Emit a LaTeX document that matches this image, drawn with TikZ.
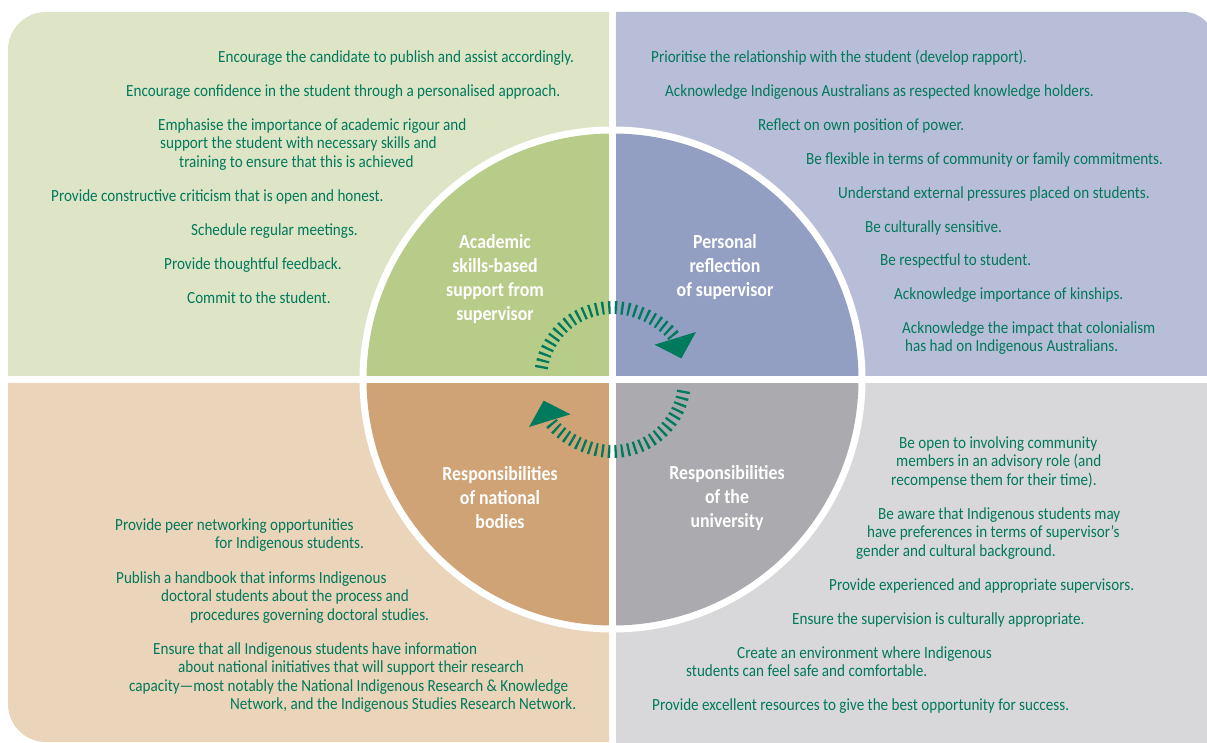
\documentclass[tikz,border=0pt]{standalone}
\usepackage{fontspec}
\setmainfont{Carlito}[FakeStretch=0.89]
\usetikzlibrary{arrows.meta}

\definecolor{textgreen}{RGB}{0,120,90}
\definecolor{arrowgreen}{RGB}{0,122,92}
\definecolor{acadlight}{RGB}{222,229,199}
\definecolor{acaddark}{RGB}{184,204,137}
\definecolor{perslight}{RGB}{185,190,216}
\definecolor{persdark}{RGB}{146,159,194}
\definecolor{natlight}{RGB}{234,212,186}
\definecolor{natdark}{RGB}{207,163,117}
\definecolor{unilight}{RGB}{216,216,218}
\definecolor{unidark}{RGB}{171,171,175}

\begin{document}
\begin{tikzpicture}[x=1pt, y=1pt,
    point/.style={text=textgreen, font=\fontsize{17}{18.5}\selectfont, align=left, inner sep=0pt, anchor=base west},
    ringlabel/.style={text=white, font=\fontsize{20}{24}\selectfont\bfseries, align=center, inner sep=0pt},
    gap/.style={white, line width=7pt},
    cyclearrow/.style={arrowgreen, line width=13pt, dash pattern=on 2.3pt off 4.2pt, -{Triangle[width=42pt,length=21pt]}}]
        \useasboundingbox (0,0) rectangle (1207,743);
        % four panels
        \fill[acadlight] (609,367) -- (8,367) -- (8,693) arc[start angle=180, end angle=90, radius=38] -- (609,731) -- cycle;
        \fill[perslight] (616,367) -- (616,731) -- (1184,731) arc[start angle=90, end angle=0, radius=30] -- (1214,367) -- cycle;
        \fill[natlight] (609,360) -- (609,1) -- (46,1) arc[start angle=270, end angle=180, radius=38] -- (8,360) -- cycle;
        \fill[unilight] (616,360) -- (616,-5) -- (1214,-5) -- (1214,360) -- cycle;
        % the circle
        \coordinate (c) at (612.5,363.5);
        \fill[white] (c) circle[radius=253];
        \fill[acaddark] (c) -- ++(180:246) arc[start angle=180, end angle=90, radius=246] -- cycle;
        \fill[persdark] (c) -- ++(90:246) arc[start angle=90, end angle=0, radius=246] -- cycle;
        \fill[unidark] (c) -- ++(0:246) arc[start angle=0, end angle=-90, radius=246] -- cycle;
        \fill[natdark] (c) -- ++(270:246) arc[start angle=270, end angle=180, radius=246] -- cycle;
        \draw[gap] ([shift={(0,-256)}]c) -- ([shift={(0,256)}]c);
        \draw[gap] ([shift={(-256,0)}]c) -- ([shift={(256,0)}]c);
        % cycle arrows
        \draw[cyclearrow] ([shift={(171:72)}]c) arc[start angle=171, end angle=17, radius=72];
        \draw[cyclearrow] ([shift={(-9:72)}]c) arc[start angle=-9, end angle=-163, radius=72];
        \node[ringlabel] (acad) at (495,464) {Academic\\skills-based\\support from\\supervisor};
        \node[ringlabel] (pers) at (725,476) {Personal\\reflection\\of supervisor};
        \node[ringlabel] (nat) at (500,245) {Responsibilities\\of national\\bodies};
        \node[ringlabel] (uni) at (727,245) {Responsibilities\\of the\\university};
        % academic support
        \node[point] (acad1) at (218,680.5) {Encourage the candidate to publish and assist accordingly.};
        \node[point] (acad2) at (126,646.5) {Encourage confidence in the student through a personalised approach.};
        \node[point] (acad3) at (158,575.5) {Emphasise the importance of academic rigour and\\\hspace*{2pt}support the student with necessary skills and\\\hspace*{21pt}training to ensure that this is achieved};
        \node[point] (acad4) at (51,541.5) {Provide constructive criticism that is open and honest.};
        \node[point] (acad5) at (191,507.5) {Schedule regular meetings.};
        \node[point] (acad6) at (164,473.5) {Provide thoughtful feedback.};
        \node[point] (acad7) at (187,439.5) {Commit to the student.};
        % personal reflection
        \node[point] (pers1) at (651,680.5) {Prioritise the relationship with the student (develop rapport).};
        \node[point] (pers2) at (665,646.5) {Acknowledge Indigenous Australians as respected knowledge holders.};
        \node[point] (pers3) at (758,612.5) {Reflect on own position of power.};
        \node[point] (pers4) at (806,578.5) {Be flexible in terms of community or family commitments.};
        \node[point] (pers5) at (838,544.5) {Understand external pressures placed on students.};
        \node[point] (pers6) at (865,510.5) {Be culturally sensitive.};
        \node[point] (pers7) at (880,477.5) {Be respectful to student.};
        \node[point] (pers8) at (894,443.5) {Acknowledge importance of kinships.};
        \node[point] (pers9) at (902,391) {Acknowledge the impact that colonialism\\\hspace*{3pt}has had on Indigenous Australians.};
        % national bodies
        \node[point] (nat1) at (115,194) {Provide peer networking opportunities\\\hspace*{100pt}for Indigenous students.};
        \node[point] (nat2) at (116,122.5) {Publish a handbook that informs Indigenous\\\hspace*{45pt}doctoral students about the process and\\\hspace*{74pt}procedures governing doctoral studies.};
        \node[point] (nat3) at (129,33) {\hspace*{24pt}Ensure that all Indigenous students have information\\\hspace*{49pt}about national initiatives that will support their research\\capacity—most notably the National Indigenous Research \& Knowledge\\\hspace*{101pt}Network, and the Indigenous Studies Research Network.};
        % university
        \node[point] (uni1) at (891,257.5) {\hspace*{8pt}Be open to involving community\\\hspace*{5pt}members in an advisory role (and\\recompense them for their time).};
        \node[point] (uni2) at (856,186.5) {\hspace*{22pt}Be aware that Indigenous students may\\\hspace*{11pt}have preferences in terms of supervisor’s\\gender and cultural background.};
        \node[point] (uni3) at (829,152.5) {Provide experienced and appropriate supervisors.};
        \node[point] (uni4) at (792,118.5) {Ensure the supervision is culturally appropriate.};
        \node[point] (uni5) at (686,66) {\hspace*{51pt}Create an environment where Indigenous\\students can feel safe and comfortable.};
        \node[point] (uni6) at (652,32.5) {Provide excellent resources to give the best opportunity for success.};
    \end{tikzpicture}
\end{document}
